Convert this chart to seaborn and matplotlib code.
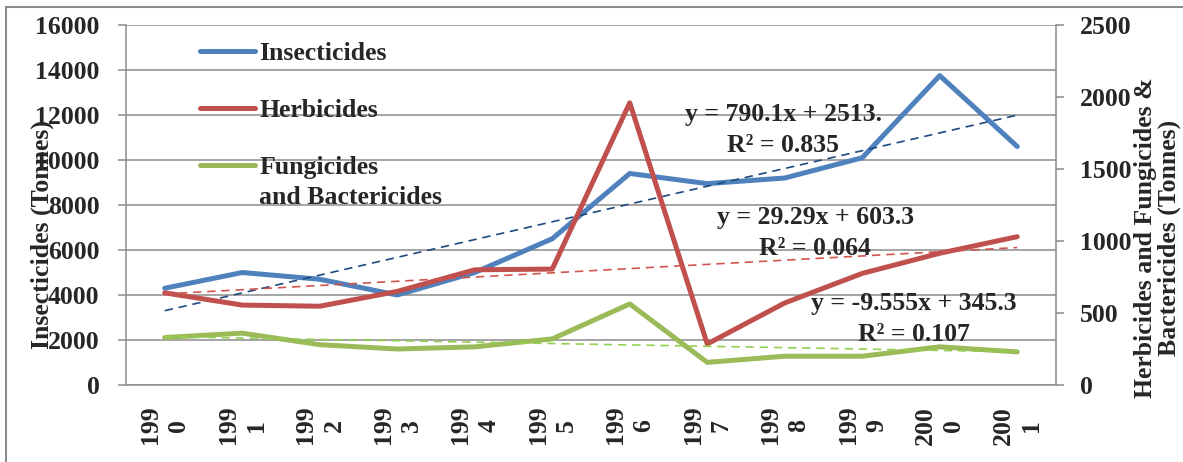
import numpy as np
import pandas as pd
import matplotlib
matplotlib.use("Agg")
import matplotlib.pyplot as plt
import seaborn as sns
from matplotlib.lines import Line2D
from matplotlib.patches import Rectangle

# ---- data -------------------------------------------------------------
years = ["1990", "1991", "1992", "1993", "1994", "1995",
         "1996", "1997", "1998", "1999", "2000", "2001"]
insecticides = [4300, 5000, 4700, 4000, 5000, 6500, 9400, 8950, 9200, 10100, 13750, 10600]
herbicides = [640, 555, 547, 650, 800, 805, 1960, 285, 570, 775, 915, 1030]
fungicides = [330, 360, 280, 250, 265, 320, 563, 157, 200, 200, 265, 230]

# linear trends (slope, intercept) with x = 1..n
insect_trend = (790.1, 2513.0)
herb_trend = (29.29, 603.3)
fung_trend = (-9.555, 345.3)
trend_labels = ["y = 790.1x + 2513.\nR\u00b2 = 0.835",
                "y = 29.29x + 603.3\nR\u00b2 = 0.064",
                "y = -9.555x + 345.3\nR\u00b2 = 0.107"]
series_names = ["Insecticides", "Herbicides", "Fungicides", "and Bactericides"]

# ---- style ------------------------------------------------------------
sns.set_theme(style="white")
plt.rcParams["font.family"] = ["Liberation Serif", "DejaVu Serif"]
plt.rcParams["font.weight"] = "bold"
FS = 18.5
GRID = "#8c8c8c"
BLUE, RED, GREEN = "#4f81bd", "#c0504d", "#9bbb59"
BLUE_T, RED_T, GREEN_T = "#1f497d", "#d05550", "#92d050"

W, H = 1183, 462
fig = plt.figure(figsize=(W / 100, H / 100), dpi=100)
ax = fig.add_axes([126 / W, 1 - 385 / H, 930 / W, 360 / H])
ax2 = ax.twinx()

n = len(years)
pos = np.arange(n)
xs = pos + 1  # trend x values
df = pd.DataFrame({"pos": pos, "ins": insecticides, "herb": herbicides, "fung": fungicides})
df["ins_t"] = insect_trend[0] * xs + insect_trend[1]
df["herb_t"] = herb_trend[0] * xs + herb_trend[1]
df["fung_t"] = fung_trend[0] * xs + fung_trend[1]

lw = 3.6
kw = dict(solid_capstyle="round", solid_joinstyle="round")
sns.lineplot(data=df, x="pos", y="ins", ax=ax, color=BLUE, lw=lw, zorder=3, **kw)
sns.lineplot(data=df, x="pos", y="ins_t", ax=ax, color=BLUE_T, lw=1.2, zorder=4)
ax.lines[-1].set_dashes([5, 3.5])
sns.lineplot(data=df, x="pos", y="herb", ax=ax2, color=RED, lw=lw, zorder=3, **kw)
sns.lineplot(data=df, x="pos", y="fung", ax=ax2, color=GREEN, lw=lw, zorder=3, **kw)
sns.lineplot(data=df, x="pos", y="herb_t", ax=ax2, color=RED_T, lw=1.2, zorder=4)
ax2.lines[-1].set_dashes([5, 3.5])
sns.lineplot(data=df, x="pos", y="fung_t", ax=ax2, color=GREEN_T, lw=1.2, zorder=4)
ax2.lines[-1].set_dashes([5, 3.5])

# ---- axes -------------------------------------------------------------
ax.set_xlim(-0.5, n - 0.5)
ax.set_ylim(0, 16000)
ax2.set_ylim(0, 2500)
ax.set_yticks(np.arange(0, 16001, 2000))
ax2.set_yticks(np.arange(0, 2501, 500))
ax.set_xticks(pos)
ax.set_xticklabels([y[:3] + "\n" + y[3:] for y in years], rotation=90,
                   fontsize=FS, fontweight="bold", va="top", ha="center",
                   linespacing=1.3)
ax.set_xticks(np.arange(-0.5, n, 1.0), minor=True)
ax.tick_params(axis="x", which="major", length=0, pad=15)
ax.tick_params(axis="x", which="minor", length=6, width=1.1, color=GRID, direction="out")
ax.tick_params(axis="y", length=6, width=1.1, color=GRID, direction="out", pad=13,
               labelsize=FS, left=True)
ax2.tick_params(axis="y", length=6, width=1.1, color=GRID, direction="out", pad=11,
                labelsize=FS, right=True)
for lab in ax.get_yticklabels() + ax2.get_yticklabels():
    lab.set_fontweight("bold")

ax.grid(axis="y", color=GRID, lw=1.1)
ax.grid(axis="x", visible=False)
ax2.grid(False)
for a in (ax, ax2):
    for s in a.spines.values():
        s.set_color(GRID)
        s.set_linewidth(1.1)
    a.spines["top"].set_visible(False)
ax2.spines["left"].set_visible(False)
ax2.spines["bottom"].set_visible(False)
ax.spines["right"].set_visible(False)

ax.set_xlabel("")
ax.set_ylabel("Insecticides (Tonnes)", fontsize=FS, fontweight="bold")
ax.yaxis.label.set(ha="center", va="center")
ax.yaxis.set_label_coords(-0.0905, 0.417)
ax2.set_ylabel("Herbicides and Fungicides &\nBactericides (Tonnes)", fontsize=FS,
               fontweight="bold", rotation=90, linespacing=1.0)
ax2.yaxis.label.set(ha="center", va="center", multialignment="center")
ax2.yaxis.set_label_coords(1.109, 0.408)

# ---- trend equations --------------------------------------------------
for txt, (tx, ty) in zip(trend_labels, [(0.7065, 0.709), (0.741, 0.422), (0.847, 0.184)]):
    ax2.text(tx, ty, txt, transform=ax.transAxes, ha="center", va="center",
             multialignment="center", fontsize=FS, fontweight="bold",
             linespacing=1.42, zorder=6)

# ---- legend -----------------------------------------------------------
handles = [Line2D([], [], color=c, lw=lw, solid_capstyle="round") for c in (BLUE, RED, GREEN)]
leg = ax2.legend(handles, series_names[:3], loc="upper left",
                 bbox_to_anchor=(0.0796, 0.952), frameon=False,
                 handlelength=2.15, handletextpad=0.15, labelspacing=1.32,
                 borderpad=0, borderaxespad=0, prop={"weight": "bold", "size": FS})
fig.canvas.draw()
bb = leg.get_texts()[2].get_window_extent()
fig.text(bb.x0 / W, (bb.y0 - 30) / H, series_names[3], fontsize=FS,
         fontweight="bold", ha="left", va="bottom")

# outer frame
fig.patches.append(Rectangle((6 / W, -0.1), 1.2, 1.1 - 7 / H, transform=fig.transFigure,
                             fill=False, edgecolor=GRID, lw=1.5))

fig.savefig("out.png", dpi=100)
